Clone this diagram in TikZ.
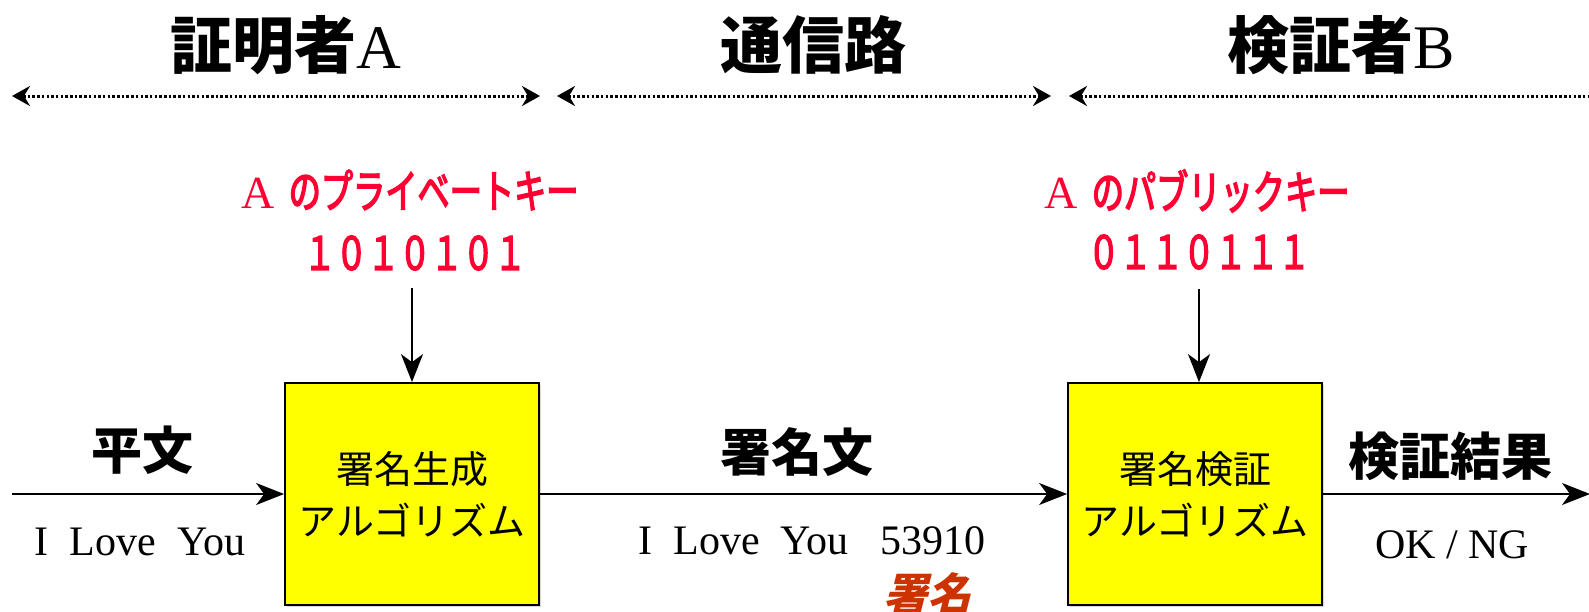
\documentclass[tikz,border=0pt]{standalone}
\usepackage{fontspec}
\setmainfont{Liberation Serif}
\newfontfamily\jpfont{Noto Sans CJK JP}
\newfontfamily\keyfont[FakeStretch=0.7,FakeBold=3]{Noto Sans CJK JP}
\newfontfamily\bitfont[FakeStretch=0.69,FakeBold=3]{Noto Sans CJK JP}
\newfontfamily\signfont[FakeSlant=0.25]{Noto Sans CJK JP}
\usetikzlibrary{positioning,arrows.meta,shadows}
\definecolor{keyred}{HTML}{FF0033}
\definecolor{signred}{HTML}{CC3300}
\definecolor{algoyellow}{HTML}{FFFF00}
\newcommand{\wgap}{\hspace{.5em}}

\begin{document}
\begin{tikzpicture}[x=1pt,y=-1pt,
  >={Stealth[length=28pt,width=22pt,inset=8pt]},
  algo/.style ={draw,line width=1.8pt,fill=algoyellow,minimum width=254pt,
                minimum height=222pt,inner sep=0pt,align=center,
                font=\jpfont\fontsize{38}{52}\selectfont,
                drop shadow={shadow xshift=2pt,shadow yshift=-2pt,fill=black!30}},
  party/.style={font=\fontsize{62}{62}\selectfont},
  flow/.style ={line width=1.6pt,->},
  rangeline/.style={line width=3pt,dash pattern=on 2.5pt off 2.2pt,
                <->,>={Stealth[length=18pt,width=20pt,inset=6pt]}},
  flowlabel/.style={font=\jpfont\bfseries\fontsize{51}{51}\selectfont},
  msg/.style  ={font=\fontsize{42}{42}\selectfont},
  keytext/.style={keyred,font=\keyfont\fontsize{46}{46}\selectfont},
  bits/.style ={keyred,font=\bitfont\fontsize{46}{46}\selectfont},
  signtag/.style={signred,font=\signfont\bfseries\fontsize{44}{44}\selectfont}
]
  \useasboundingbox (0,0) rectangle (1589,611);

  % ----- parties and the ranges they own -----
  \node[party] (prover)   at (286,45)  {{\jpfont\bfseries 証明者}A};
  \node[party] (channel)  at (813,45)  {\jpfont\bfseries 通信路};
  \node[party] (verifier) at (1341,45) {{\jpfont\bfseries 検証者}B};

  \draw[rangeline] (12,96) -- (540,96);
  \draw[rangeline] (557,96) -- (1051,96);
  \draw[rangeline] (1069,96) -- (1612,96);

  % ----- algorithm boxes -----
  \node[algo] (gen) at (412,494) {署名生成\\アルゴリズム};
  \node[algo] (ver) at (1195,494) {署名検証\\アルゴリズム};

  % ----- keys -----
  \node[keytext] (privkey)  at (410,190)  {{\fontsize{46}{46}\rmfamily A}\hspace{14pt}のプライベートキー};
  \node[bits]    (privbits) at (415,253)  {１０１０１０１};
  \node[keytext] (pubkey)   at (1197,191) {{\fontsize{46}{46}\rmfamily A}\hspace{14pt}のパブリックキー};
  \node[bits]    (pubbits)  at (1199,252) {０１１０１１１};

  \draw[flow] (privbits.south -| gen.north) ++(0,14) -- (gen.north);
  \draw[flow] (pubbits.south -| pubbits.south) ++(0,16) -- (pubbits.south |- ver.north);

  % ----- message flow -----
  \coordinate (in)  at (12,494);
  \coordinate (out) at (1590,494);
  \draw[flow] (in) -- (gen);
  \draw[flow] (gen) -- (ver);
  \draw[flow] (ver) -- (out);

  \node[flowlabel] (plain)      at (142,450)  {平文};
  \node[msg]       (plaintext)  at (140,542)  {I\wgap Love\wgap You};
  \node[flowlabel] (signed)     at (797,452)  {署名文};
  \node[msg]       (signedtext) at (812,541)  {I\wgap Love\wgap You\hspace{.75em}53910};
  \node[signtag]   (sig)        at (927,594)  {署名};
  \node[flowlabel] (result)     at (1450,456) {検証結果};
  \node[msg]       (resulttext) at (1452,545) {OK / NG};
\end{tikzpicture}
\end{document}
